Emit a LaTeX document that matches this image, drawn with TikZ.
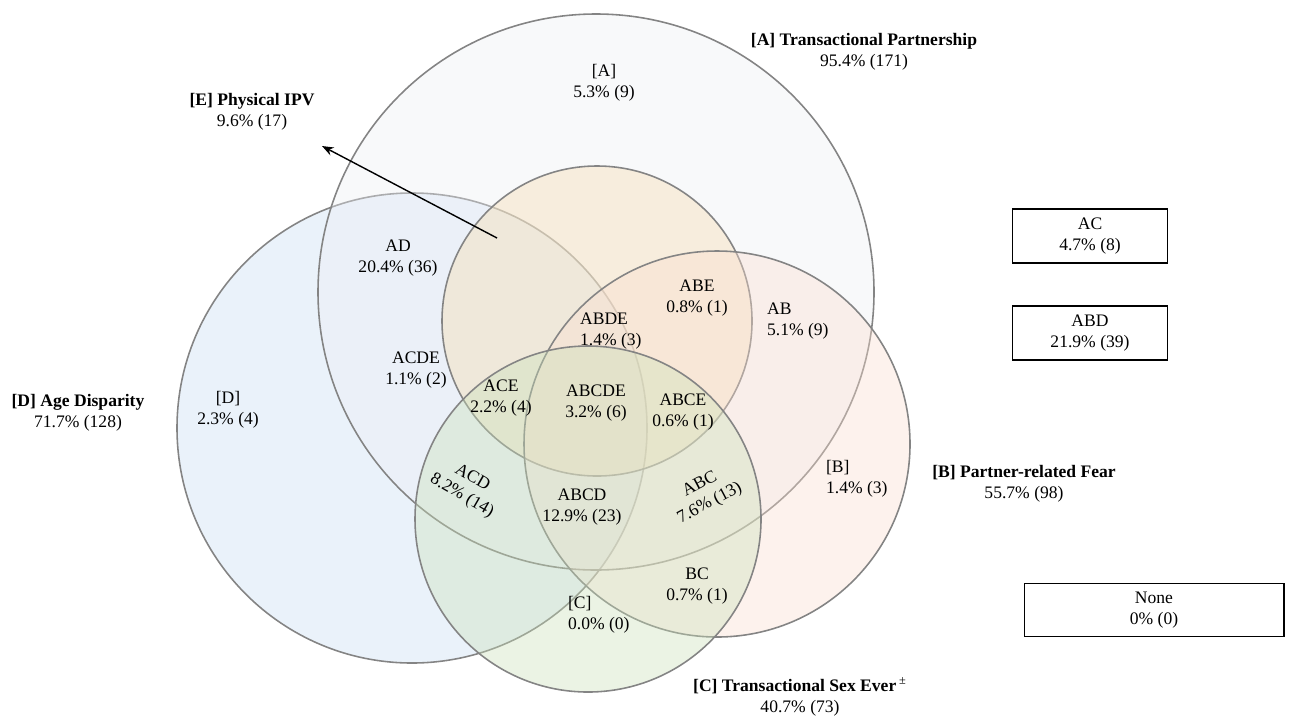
\documentclass[tikz,border=0pt]{standalone}
\usepackage{fontspec}
\setmainfont{Liberation Serif}
\usetikzlibrary{arrows.meta}
\usetikzlibrary{positioning}

\definecolor{edgegray}{RGB}{132,132,132}
\definecolor{fillA}{RGB}{236,238,243}
\definecolor{fillD}{RGB}{200,222,243}
\definecolor{fillE}{RGB}{246,220,172}
\definecolor{fillB}{RGB}{251,222,208}
\definecolor{fillC}{RGB}{202,224,184}

\tikzset{
  venn/.style={draw=edgegray, line width=0.9pt, fill opacity=0.38},
  lbl/.style={font=\fontsize{10}{12}\selectfont, align=center, inner sep=1pt},
  lbll/.style={lbl, align=left, anchor=west},
  settitle/.style={lbl, font=\fontsize{10}{12}\selectfont},
  countbox/.style={draw=black, line width=0.6pt, lbl, minimum width=3.1cm, minimum height=1.08cm}
}

\begin{document}
\begin{tikzpicture}[x=0.02cm, y=-0.02cm, >=Stealth]

\useasboundingbox (0,0) rectangle (1290,721);

\coordinate (Dc) at (412,428);
\coordinate (Ac) at (596,292);
\coordinate (Ec) at (597,321);
\coordinate (Bc) at (717,444);
\coordinate (Cc) at (588,519);

% sets
\draw[venn, fill=fillD] (Dc) circle [radius=235];
\draw[venn, fill=fillA] (Ac) circle [radius=278];
\draw[venn, fill=fillE] (Ec) circle [radius=155];
\draw[venn, fill=fillB] (Bc) circle [radius=193];
\draw[venn, fill=fillC] (Cc) circle [radius=173];

% set names
\node[settitle] (tA) at (864,52) {\textbf{[A] Transactional Partnership}\\95.4\% (171)};
\node[settitle] (tE) at (252,112) {\textbf{[E] Physical IPV}\\9.6\% (17)};
\node[settitle] (tD) at (78,413) {\textbf{[D] Age Disparity}\\71.7\% (128)};
\node[settitle] (tB) at (1024,484) {\textbf{[B] Partner-related Fear}\\55.7\% (98)};
\node[settitle] (tC) at (800,697) {\textbf{[C] Transactional Sex Ever}\,\textsuperscript{\scriptsize ±}\\40.7\% (73)};

\coordinate (Etail) at (497,238);
\coordinate (Ehead) at (322,146);
\draw[->, line width=0.8pt] (Etail) -- (Ehead);

% regions
\node[lbl] (rA) at (604,83) {[A]\\5.3\% (9)};
\node[lbl] (rAD) at (398,258) {AD\\20.4\% (36)};
\node[lbl] (rABE) at (697,298) {ABE\\0.8\% (1)};
\node[lbll] (rAB) at (765,321) {AB\\5.1\% (9)};
\node[lbll] (rABDE) at (578,331) {ABDE\\1.4\% (3)};
\node[lbl] (rACDE) at (416,370) {ACDE\\1.1\% (2)};
\node[lbl] (rD) at (228,410) {[D]\\2.3\% (4)};
\node[lbl] (rACE) at (501,398) {ACE\\2.2\% (4)};
\node[lbl] (rABCDE) at (596,403) {ABCDE\\3.2\% (6)};
\node[lbl] (rABCE) at (683,412) {ABCE\\0.6\% (1)};
\node[lbl, rotate=-30, inner sep=0pt] (rACD) at (467,487) {ACD\\8.2\% (14)};
\node[lbl] (rABCD) at (582,507) {ABCD\\12.9\% (23)};
\node[lbl, rotate=28, inner sep=0pt] (rABC) at (705,494) {ABC\\7.6\% (13)};
\node[lbll] (rB) at (824,479) {[B]\\1.4\% (3)};
\node[lbl] (rBC) at (697,586) {BC\\0.7\% (1)};
\node[lbll] (rC) at (566,615) {[C]\\0.0\% (0)};

% combinations outside the diagram
\node[countbox] (bAC) at (1090,236) {AC\\4.7\% (8)};
\node[countbox] (bABD) at (1090,333) {ABD\\21.9\% (39)};
\node[countbox, minimum width=5.2cm, minimum height=1.06cm] (bNone) at (1154,610) {None\\0\% (0)};

\end{tikzpicture}
\end{document}
